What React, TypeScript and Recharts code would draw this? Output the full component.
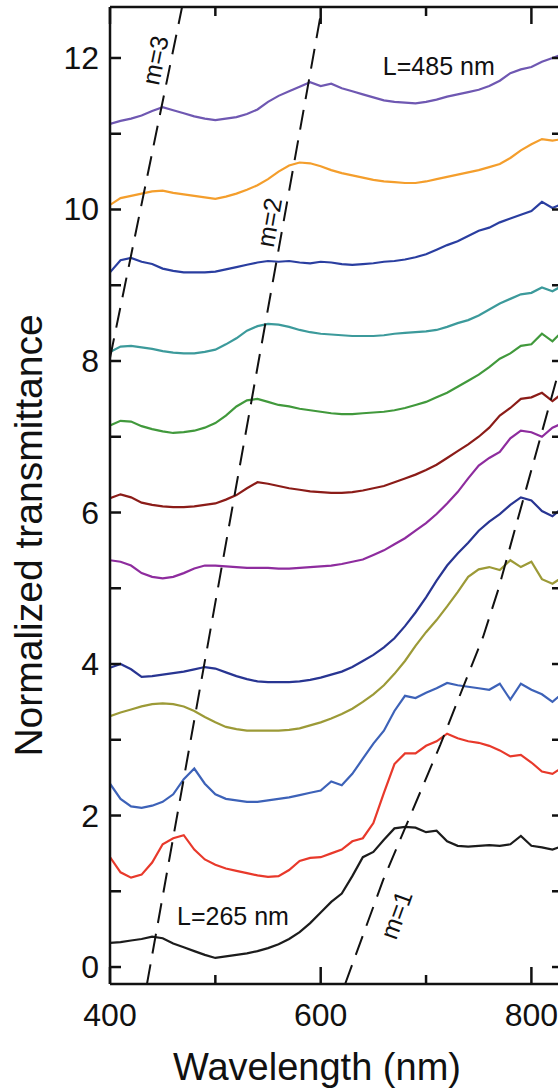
import React from "react";
import { ComposedChart, Line, XAxis, YAxis, ReferenceDot } from "recharts";

// transmittance spectra, offset by ~1 per thickness step (L = 265 ... 485 nm)
const wavelength = [
  400, 410, 420, 430, 440, 450, 460, 470, 480, 490, 500, 510, 520, 530, 540, 550, 560, 570, 580, 590, 600, 610,
  620, 630, 640, 650, 660, 670, 680, 690, 700, 710, 720, 730, 740, 750, 760, 770, 780, 790, 800, 810, 820, 830,
];

const L265 = [
  0.32, 0.33, 0.35, 0.37, 0.4, 0.38, 0.31, 0.26, 0.21, 0.16, 0.12, 0.14, 0.16, 0.18, 0.21, 0.25, 0.3, 0.37, 0.46, 0.58, 0.72, 0.86,
  0.97, 1.2, 1.45, 1.52, 1.68, 1.83, 1.85, 1.84, 1.78, 1.8, 1.66, 1.6, 1.59, 1.6, 1.61, 1.6, 1.62, 1.73, 1.6, 1.58, 1.55, 1.6,
];
const L285 = [
  1.45, 1.25, 1.18, 1.22, 1.38, 1.62, 1.7, 1.74, 1.55, 1.42, 1.35, 1.3, 1.27, 1.24, 1.21, 1.19, 1.2, 1.28, 1.4, 1.44, 1.45, 1.5,
  1.55, 1.66, 1.7, 1.9, 2.3, 2.68, 2.82, 2.82, 2.92, 2.98, 3.08, 3.02, 2.98, 2.96, 2.92, 2.86, 2.78, 2.8, 2.7, 2.58, 2.55, 2.64,
];
const L305 = [
  2.42, 2.22, 2.12, 2.1, 2.13, 2.18, 2.28, 2.48, 2.62, 2.42, 2.28, 2.22, 2.2, 2.18, 2.18, 2.2, 2.22, 2.24, 2.27, 2.3, 2.33, 2.45,
  2.4, 2.55, 2.75, 2.95, 3.12, 3.38, 3.58, 3.55, 3.62, 3.68, 3.75, 3.72, 3.7, 3.68, 3.66, 3.74, 3.53, 3.74, 3.66, 3.6, 3.5, 3.62,
];
const L325 = [
  3.31, 3.36, 3.4, 3.44, 3.47, 3.48, 3.47, 3.44, 3.38, 3.3, 3.23, 3.17, 3.14, 3.12, 3.12, 3.12, 3.12, 3.13, 3.15, 3.19, 3.23, 3.28,
  3.34, 3.41, 3.5, 3.6, 3.72, 3.87, 4.04, 4.24, 4.42, 4.58, 4.76, 4.95, 5.15, 5.25, 5.28, 5.24, 5.37, 5.28, 5.35, 5.12, 5.06, 5.15,
];
const L345 = [
  3.95, 4.0, 3.93, 3.83, 3.84, 3.86, 3.88, 3.9, 3.93, 3.96, 3.94, 3.89, 3.84, 3.8, 3.77, 3.76, 3.76, 3.76, 3.77, 3.79, 3.82, 3.86,
  3.9, 3.96, 4.04, 4.12, 4.22, 4.34, 4.5, 4.68, 4.88, 5.1, 5.3, 5.46, 5.6, 5.76, 5.88, 5.98, 6.1, 6.2, 6.16, 6.02, 5.95, 6.07,
];
const L365 = [
  5.37, 5.35, 5.3, 5.2, 5.15, 5.13, 5.15, 5.2, 5.26, 5.3, 5.3, 5.29, 5.28, 5.27, 5.27, 5.27, 5.26, 5.26, 5.27, 5.28, 5.29, 5.3,
  5.32, 5.35, 5.38, 5.44, 5.5, 5.58, 5.66, 5.76, 5.86, 5.98, 6.12, 6.27, 6.45, 6.62, 6.72, 6.8, 6.98, 7.08, 7.06, 7.0, 7.12, 7.18,
];
const L385 = [
  6.19, 6.24, 6.2, 6.13, 6.1, 6.08, 6.07, 6.07, 6.08, 6.1, 6.12, 6.17, 6.23, 6.32, 6.4, 6.38, 6.35, 6.32, 6.3, 6.28, 6.27, 6.26,
  6.26, 6.27, 6.29, 6.32, 6.35, 6.4, 6.45, 6.5, 6.56, 6.63, 6.72, 6.81, 6.9, 7.0, 7.12, 7.28, 7.38, 7.5, 7.52, 7.58, 7.47, 7.58,
];
const L405 = [
  7.15, 7.21, 7.2, 7.14, 7.1, 7.07, 7.05, 7.06, 7.08, 7.12, 7.18, 7.28, 7.4, 7.48, 7.5, 7.46, 7.42, 7.4, 7.37, 7.35, 7.33, 7.31,
  7.3, 7.3, 7.31, 7.32, 7.33, 7.35, 7.38, 7.42, 7.46, 7.52, 7.58, 7.66, 7.74, 7.82, 7.92, 8.03, 8.1, 8.2, 8.22, 8.36, 8.26, 8.4,
];
const L425 = [
  8.12, 8.19, 8.2, 8.18, 8.16, 8.13, 8.11, 8.1, 8.1, 8.12, 8.15, 8.22, 8.3, 8.4, 8.46, 8.49, 8.48, 8.45, 8.41, 8.38, 8.36, 8.35,
  8.34, 8.33, 8.33, 8.33, 8.34, 8.36, 8.37, 8.38, 8.39, 8.41, 8.45, 8.5, 8.54, 8.6, 8.68, 8.76, 8.82, 8.88, 8.9, 8.97, 8.92, 9.0,
];
const L445 = [
  9.17, 9.33, 9.36, 9.31, 9.28, 9.22, 9.19, 9.17, 9.17, 9.17, 9.18, 9.21, 9.24, 9.27, 9.3, 9.32, 9.31, 9.32, 9.3, 9.29, 9.31, 9.3,
  9.28, 9.27, 9.28, 9.29, 9.31, 9.32, 9.34, 9.37, 9.41, 9.47, 9.53, 9.58, 9.65, 9.72, 9.76, 9.83, 9.88, 9.93, 9.98, 10.1, 10.02, 10.08,
];
const L465 = [
  10.06, 10.15, 10.18, 10.21, 10.24, 10.25, 10.22, 10.2, 10.18, 10.16, 10.14, 10.17, 10.21, 10.26, 10.32, 10.4, 10.5, 10.58, 10.62, 10.61, 10.57, 10.52,
  10.48, 10.45, 10.42, 10.39, 10.37, 10.36, 10.35, 10.35, 10.37, 10.4, 10.43, 10.46, 10.49, 10.52, 10.56, 10.6, 10.68, 10.78, 10.86, 10.93, 10.91, 10.93,
];
const L485 = [
  11.13, 11.17, 11.2, 11.24, 11.3, 11.35, 11.31, 11.27, 11.23, 11.2, 11.18, 11.2, 11.22, 11.26, 11.32, 11.42, 11.5, 11.56, 11.62, 11.68, 11.63, 11.66,
  11.6, 11.56, 11.52, 11.48, 11.44, 11.42, 11.41, 11.4, 11.42, 11.45, 11.49, 11.52, 11.55, 11.58, 11.63, 11.7, 11.8, 11.85, 11.88, 11.95, 12.0, 12.05,
];

const series = [
  { key: "L265", values: L265, color: "#1c1c1c" },
  { key: "L285", values: L285, color: "#e8392b" },
  { key: "L305", values: L305, color: "#3d62b8" },
  { key: "L325", values: L325, color: "#9c9a37" },
  { key: "L345", values: L345, color: "#283592" },
  { key: "L365", values: L365, color: "#8e2c9e" },
  { key: "L385", values: L385, color: "#8b1c18" },
  { key: "L405", values: L405, color: "#41993c" },
  { key: "L425", values: L425, color: "#3c9a9b" },
  { key: "L445", values: L445, color: "#2a3ea0" },
  { key: "L465", values: L465, color: "#f49e2c" },
  { key: "L485", values: L485, color: "#6f58b2" },
];

// resonance guide lines
const m3Line = [
  { wl: 400, v: 8.04 },
  { wl: 468.4, v: 12.673 },
];
const m2Line = [
  { wl: 435.1, v: -0.224 },
  { wl: 601.3, v: 12.673 },
];
const m1Line = [
  { wl: 623.2, v: -0.224 },
  { wl: 659.3, v: 1.15 },
  { wl: 713.4, v: 2.93 },
  { wl: 754.2, v: 4.36 },
  { wl: 768.5, v: 4.98 },
  { wl: 824.5, v: 7.79 },
  { wl: 830, v: 7.97 },
];

const notes = [
  { text: "L=485 nm", wl: 659, v: 11.78, angle: 0, anchor: "start" },
  { text: "L=265 nm", wl: 463.6, v: 0.55, angle: 0, anchor: "start" },
  { text: "m=3", wl: 442.7, v: 11.97, angle: -78.4, anchor: "middle" },
  { text: "m=2", wl: 550.9, v: 9.83, angle: -80, anchor: "middle" },
  { text: "m=1", wl: 671.5, v: 0.69, angle: -70, anchor: "middle" },
];

const xTicks = [400, 500, 600, 700, 800];
const yTicks = [0, 1, 2, 3, 4, 5, 6, 7, 8, 9, 10, 11, 12];
const X_DOMAIN = [400, 830];
const Y_DOMAIN = [-0.224, 12.673];

const FONT = '"Liberation Sans", Arial, Helvetica, sans-serif';
const INK = "#111";

const data = wavelength.map((wl, i) => {
  const row: Record<string, number> = { wl };
  series.forEach((s) => {
    row[s.key] = s.values[i];
  });
  return row;
});

function BottomTick({ x, y, payload }: any) {
  const major = payload.value % 200 === 0;
  return (
    <g>
      <line x1={x} x2={x} y1={y} y2={y - (major ? 17 : 9)} stroke={INK} strokeWidth={2.5} />
      {major && (
        <text x={x} y={y + 42} textAnchor="middle" fontSize={32} fontFamily={FONT} fill={INK}>
          {payload.value}
        </text>
      )}
    </g>
  );
}

function TopTick({ x, y, payload }: any) {
  const major = payload.value % 200 === 0;
  return <line x1={x} x2={x} y1={y} y2={y + (major ? 17 : 9)} stroke={INK} strokeWidth={2.5} />;
}

function LeftTick({ x, y, payload }: any) {
  const labelled = payload.value % 2 === 0;
  return (
    <g>
      <line x1={x} x2={x + 11} y1={y} y2={y} stroke={INK} strokeWidth={2.5} />
      {labelled && (
        <text x={x - 11} y={y + 11} textAnchor="end" fontSize={32} fontFamily={FONT} fill={INK}>
          {payload.value}
        </text>
      )}
    </g>
  );
}

function RightTick({ x, y }: any) {
  return <line x1={x} x2={x - 11} y1={y} y2={y} stroke={INK} strokeWidth={2.5} />;
}

function noteLabel(n: (typeof notes)[number]) {
  return (props: any) => {
    const vb = props.viewBox || {};
    const cx = (vb.x ?? 0) + (vb.width ?? 0) / 2;
    const cy = (vb.y ?? 0) + (vb.height ?? 0) / 2;
    return (
      <text
        x={cx}
        y={cy}
        transform={n.angle ? `rotate(${n.angle}, ${cx}, ${cy})` : undefined}
        textAnchor={n.anchor}
        dominantBaseline={n.angle ? "central" : "alphabetic"}
        fontSize={25}
        fontFamily={FONT}
        fill={INK}
      >
        {n.text}
      </text>
    );
  };
}

export default function App() {
  return (
    <div
      style={{
        position: "fixed",
        left: 0,
        top: 0,
        width: 558,
        height: 1090,
        overflow: "hidden",
        background: "#fff",
        fontFamily: FONT,
      }}
    >
      <ComposedChart width={583} height={1090} data={data} margin={{ top: 0, right: 0, bottom: 0, left: 0 }}>
        <XAxis
          dataKey="wl"
          type="number"
          domain={X_DOMAIN}
          allowDataOverflow
          ticks={xTicks}
          tickSize={0}
          tickMargin={0}
          tickLine={false}
          tick={<BottomTick />}
          axisLine={{ stroke: INK, strokeWidth: 2.5 }}
          height={106}
          label={(p: any) => {
            const vb = p.viewBox;
            return (
              <text x={vb.x + 207} y={vb.y + 96} textAnchor="middle" fontSize={38} fontFamily={FONT} fill={INK}>
                Wavelength (nm)
              </text>
            );
          }}
        />
        <XAxis
          xAxisId="top"
          orientation="top"
          dataKey="wl"
          type="number"
          domain={X_DOMAIN}
          allowDataOverflow
          ticks={xTicks}
          tickSize={0}
          tickMargin={0}
          tickLine={false}
          tick={<TopTick />}
          axisLine={{ stroke: INK, strokeWidth: 2.5 }}
          height={7}
        />
        <YAxis
          type="number"
          domain={Y_DOMAIN}
          allowDataOverflow
          ticks={yTicks}
          tickSize={0}
          tickMargin={0}
          tickLine={false}
          tick={<LeftTick />}
          axisLine={{ stroke: INK, strokeWidth: 2.5 }}
          width={110}
          label={(p: any) => {
            const vb = p.viewBox;
            const cy = vb.y + vb.height / 2 + 40;
            return (
              <text
                transform={`translate(42, ${cy}) rotate(-90)`}
                textAnchor="middle"
                fontSize={39}
                fontFamily={FONT}
                fill={INK}
              >
                Normalized transmittance
              </text>
            );
          }}
        />
        <YAxis
          yAxisId="right"
          orientation="right"
          type="number"
          domain={Y_DOMAIN}
          allowDataOverflow
          ticks={yTicks}
          tickSize={0}
          tickMargin={0}
          tickLine={false}
          tick={<RightTick />}
          axisLine={{ stroke: INK, strokeWidth: 2.5 }}
          width={20}
        />

        {series.map((s) => (
          <Line
            key={s.key}
            dataKey={s.key}
            type="linear"
            stroke={s.color}
            strokeWidth={2.2}
            dot={false}
            isAnimationActive={false}
          />
        ))}

        <Line data={m3Line} dataKey="v" type="linear" stroke={INK} strokeWidth={2} strokeDasharray="20 11" dot={false} isAnimationActive={false} />
        <Line data={m2Line} dataKey="v" type="linear" stroke={INK} strokeWidth={2} strokeDasharray="20 11" dot={false} isAnimationActive={false} />
        <Line data={m1Line} dataKey="v" type="linear" stroke={INK} strokeWidth={2} strokeDasharray="20 11" dot={false} isAnimationActive={false} />

        {notes.map((n) => (
          <ReferenceDot
            key={n.text}
            x={n.wl}
            y={n.v}
            r={0}
            fill="none"
            stroke="none"
            ifOverflow="visible"
            label={noteLabel(n)}
          />
        ))}
      </ComposedChart>
    </div>
  );
}
